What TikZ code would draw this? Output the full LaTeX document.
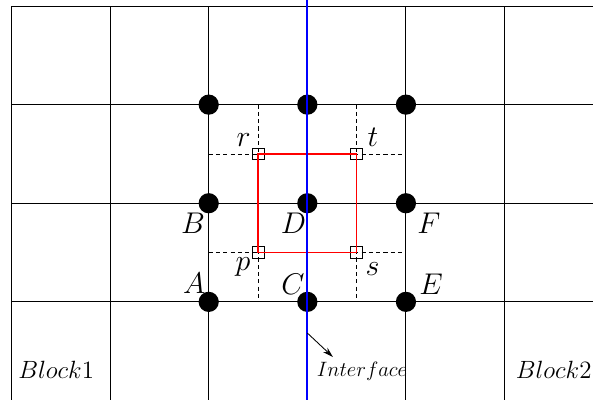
\documentclass[tikz,border=0pt]{standalone}
\usetikzlibrary{arrows.meta}
\begin{document}
\begin{tikzpicture}[x=2cm,y=-2cm,
  gridline/.style={black,line width=0.6pt},
  guide/.style={black,line width=0.5pt,dash pattern=on 2.4pt off 1.8pt},
  cell/.style={red,line width=0.7pt},
  corner/.style={draw=black,line width=0.5pt,rectangle,minimum size=0.24cm,inner sep=0pt},
  dot/.style={circle,fill=black,minimum size=0.41cm,inner sep=0pt},
  iface/.style={blue,line width=1.3pt},
  lab/.style={inner sep=0pt,anchor=base,font=\fontsize{18}{21}\selectfont},
  blk/.style={inner sep=0pt,anchor=base,font=\fontsize{15.5}{18}\selectfont},
  ilab/.style={inner sep=0pt,anchor=base,font=\fontsize{12}{14}\selectfont}]
\useasboundingbox (-0.1166,-0.061) rectangle (5.897,3.986);
\clip (-0.1166,-0.061) rectangle (5.897,3.986);
% grid
\foreach \r in {0,1,2,3} \draw[gridline] (0,\r) -- (6.2,\r);
\foreach \c in {0,1,2,4,5} \draw[gridline] (\c,0) -- (\c,4.2);
% dashed guides
\draw[guide] (2.5,1) -- (2.5,3);
\draw[guide] (3.5,1) -- (3.5,3);
\draw[guide] (2,1.5) -- (4,1.5);
\draw[guide] (2,2.5) -- (4,2.5);
% corner nodes
\node[corner] (r) at (2.5,1.5) {};
\node[corner] (t) at (3.5,1.5) {};
\node[corner] (p) at (2.5,2.5) {};
\node[corner] (s) at (3.5,2.5) {};
\draw[cell] (p.center) -- (r.center) -- (t.center) -- (s.center) -- cycle;
% dots
\node[dot] (d1) at (2,1) {};
\node[dot] (d2) at (3,1) {};
\node[dot] (d3) at (4,1) {};
\node[dot] (dB) at (2,2) {};
\node[dot] (dD) at (3,2) {};
\node[dot] (dF) at (4,2) {};
\node[dot] (dA) at (2,3) {};
\node[dot] (dC) at (3,3) {};
\node[dot] (dE) at (4,3) {};
% interface
\coordinate (itop) at (3,-0.2);
\coordinate (ibot) at (3,4.2);
\draw[iface] (itop) -- (ibot);
% labels
\node[lab] (lB) at (1.841,2.302) {$B$};
\node[lab] (lD) at (2.860,2.302) {$D$};
\node[lab] (lF) at (4.234,2.302) {$F$};
\node[lab] (lA) at (1.851,2.911) {$A$};
\node[lab] (lC) at (2.855,2.921) {$C$};
\node[lab] (lE) at (4.255,2.921) {$E$};
\node[lab] (lr) at (2.353,1.420) {$r$};
\node[lab] (lt) at (3.666,1.420) {$t$};
\node[lab] (lp) at (2.348,2.677) {$p$};
\node[lab] (ls) at (3.661,2.728) {$s$};
\node[blk,anchor=base west] (b1) at (0.066,3.773) {$Block1$};
\node[blk,anchor=base east] (b2) at (5.885,3.773) {$Block2$};
\node[ilab] (il) at (3.555,3.753) {$Interface$};
\coordinate (astart) at (3,3.316);
\coordinate (aend) at (3.26,3.56);
\draw[-{Stealth[length=6pt,width=3.5pt]},line width=0.5pt] (astart) -- (aend);
\end{tikzpicture}
\end{document}
